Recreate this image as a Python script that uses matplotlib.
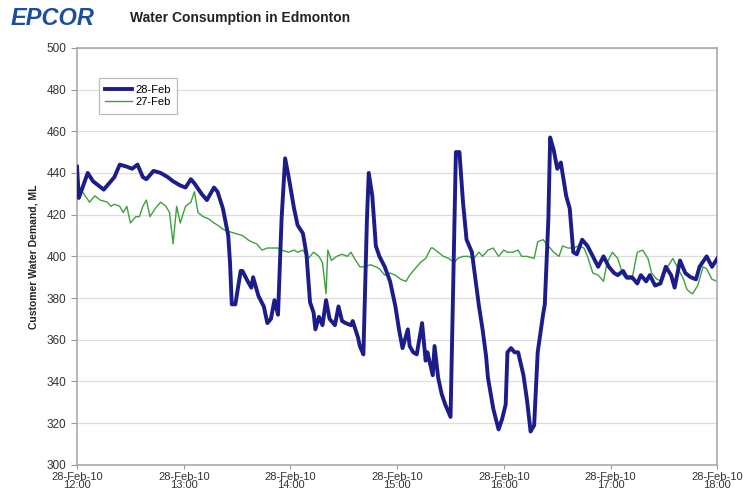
import matplotlib.pyplot as plt

plt.rcParams["font.family"] = ["Liberation Sans", "DejaVu Sans"]

# minutes after 12:00 on each day, demand in ML
feb28_min = [0, 1, 6, 9, 15, 19, 21, 24, 28, 31, 34, 37, 39, 43, 47, 51, 54, 58, 61, 64,
             66, 70, 73, 77, 79, 82, 85, 86, 87, 89, 92, 93, 96, 98, 99, 102, 105, 107, 109, 111,
             113, 115, 117, 119, 122, 124, 127, 129, 131, 133, 134, 136, 138, 140, 142, 145, 147, 149, 151, 154,
             155, 158, 159, 161, 163, 164, 166, 168, 170, 173, 176, 179, 181, 183, 186, 187, 189, 191, 194, 196,
             197, 200, 201, 203, 205, 207, 210, 213, 215, 217, 219, 222, 224, 226, 228, 230, 231, 234, 237, 239,
             241, 242, 244, 246, 248, 251, 253, 255, 257, 259, 262, 263, 265, 266, 268, 270, 272, 275, 277, 279,
             281, 284, 287, 290, 293, 296, 299, 302, 304, 307, 309, 312, 315, 317, 320, 322, 325, 328, 331, 334,
             336, 339, 342, 345, 348, 350, 354, 357, 360]
feb28_val = [443, 428, 440, 436, 432, 436, 438, 444, 443, 442, 444, 438, 437, 441, 440, 438, 436, 434, 433, 437,
             435, 430, 427, 433, 431, 423, 410, 397, 377, 377, 393, 393, 388, 385, 390, 381, 376, 368, 370, 379,
             372, 418, 447, 438, 423, 415, 411, 401, 378, 373, 365, 371, 367, 379, 370, 367, 376, 369, 368, 367,
             369, 361, 357, 353, 418, 440, 429, 405, 400, 395, 388, 376, 365, 356, 365, 357, 354, 353, 368, 350,
             354, 343, 357, 342, 334, 329, 323, 450, 450, 426, 408, 402, 389, 376, 365, 352, 342, 327, 317, 322,
             329, 354, 356, 354, 354, 343, 331, 316, 319, 354, 372, 377, 418, 457, 451, 442, 445, 429, 423, 402,
             401, 408, 405, 400, 395, 400, 395, 392, 391, 393, 390, 390, 387, 391, 388, 391, 386, 387, 395, 391,
             385, 398, 392, 390, 389, 395, 400, 395, 399]

feb27_min = [0, 3, 7, 10, 13, 17, 19, 21, 24, 26, 28, 30, 33, 35, 37, 39, 41, 44, 47, 50,
             52, 54, 56, 58, 61, 64, 66, 68, 71, 74, 77, 79, 82, 85, 89, 93, 96, 98, 101, 104,
             107, 110, 113, 115, 119, 122, 124, 127, 130, 133, 136, 138, 140, 141, 143, 146, 149, 152, 154, 156,
             159, 162, 165, 168, 170, 173, 176, 179, 182, 185, 187, 190, 193, 196, 199, 200, 203, 206, 209, 212,
             214, 217, 220, 223, 226, 228, 231, 234, 237, 240, 242, 245, 248, 250, 253, 257, 259, 262, 265, 268,
             271, 273, 276, 279, 282, 285, 287, 290, 293, 296, 298, 301, 304, 307, 309, 312, 315, 318, 321, 323,
             326, 329, 332, 335, 338, 341, 343, 346, 349, 352, 354, 357, 360]
feb27_val = [432, 431, 426, 429, 427, 426, 424, 425, 424, 421, 424, 416, 419, 419, 424, 427, 419, 423, 426, 424,
             421, 406, 424, 416, 424, 426, 431, 421, 419, 418, 416, 415, 413, 412, 411, 410, 408, 407, 406, 403,
             404, 404, 404, 403, 402, 403, 402, 403, 399, 402, 400, 397, 382, 403, 398, 400, 401, 400, 402, 399,
             395, 395, 396, 395, 394, 391, 392, 391, 389, 388, 391, 394, 397, 399, 404, 404, 402, 400, 399, 397,
             399, 400, 400, 399, 402, 400, 403, 404, 400, 403, 402, 402, 403, 400, 400, 399, 407, 408, 405, 402,
             400, 405, 404, 404, 405, 404, 400, 392, 391, 388, 397, 402, 399, 391, 389, 389, 402, 403, 399, 392,
             389, 388, 395, 399, 394, 389, 384, 382, 386, 395, 394, 389, 388]

hour_ticks = [0, 60, 120, 180, 240, 300, 360]
hour_labels = ["28-Feb-10\n12:00", "28-Feb-10\n13:00", "28-Feb-10\n14:00", "28-Feb-10\n15:00",
               "28-Feb-10\n16:00", "28-Feb-10\n17:00", "28-Feb-10\n18:00"]

fig = plt.figure(figsize=(7.48, 4.93), dpi=100)
ax = fig.add_axes([0.103, 0.057, 0.856, 0.846])

ax.plot(feb28_min, feb28_val, color="#1c1c8a", linewidth=2.8, label="28-Feb", zorder=3)
ax.plot(feb27_min, feb27_val, color="#3da23d", linewidth=1.0, label="27-Feb", zorder=2)

ax.set_xlim(0, 360)
ax.set_ylim(300, 500)
ax.set_yticks(range(300, 501, 20))
ax.set_xticks(hour_ticks)
ax.set_xticklabels(hour_labels, fontsize=8, color="#333333", linespacing=0.72)
ax.tick_params(axis="y", labelsize=8.5, labelcolor="#333333", length=4, color="#999999")
ax.tick_params(axis="x", length=3, color="#999999", pad=2)
ax.grid(axis="y", color="#dddddd", linewidth=0.9)
ax.set_axisbelow(True)
for side in ax.spines.values():
    side.set_color("#aaaaaa")
    side.set_linewidth(1.2)

ax.set_ylabel("Customer Water Demand, ML", fontsize=7.5, fontweight="bold", color="#222222", labelpad=6)

leg = ax.legend(loc="upper left", bbox_to_anchor=(0.025, 0.94), fontsize=8, frameon=True,
                fancybox=False, edgecolor="#aaaaaa", handlelength=2.4, handletextpad=0.3,
                borderpad=0.6, labelspacing=0.2)
leg.get_frame().set_linewidth(0.9)

fig.text(0.014, 0.963, "EPCOR", fontsize=17, fontweight="bold", style="italic", color="#1b4f9c", va="center")
fig.text(0.174, 0.963, "Water Consumption in Edmonton", fontsize=10, fontweight="bold", color="#222222", va="center")

fig.savefig("out.png", dpi=100)
